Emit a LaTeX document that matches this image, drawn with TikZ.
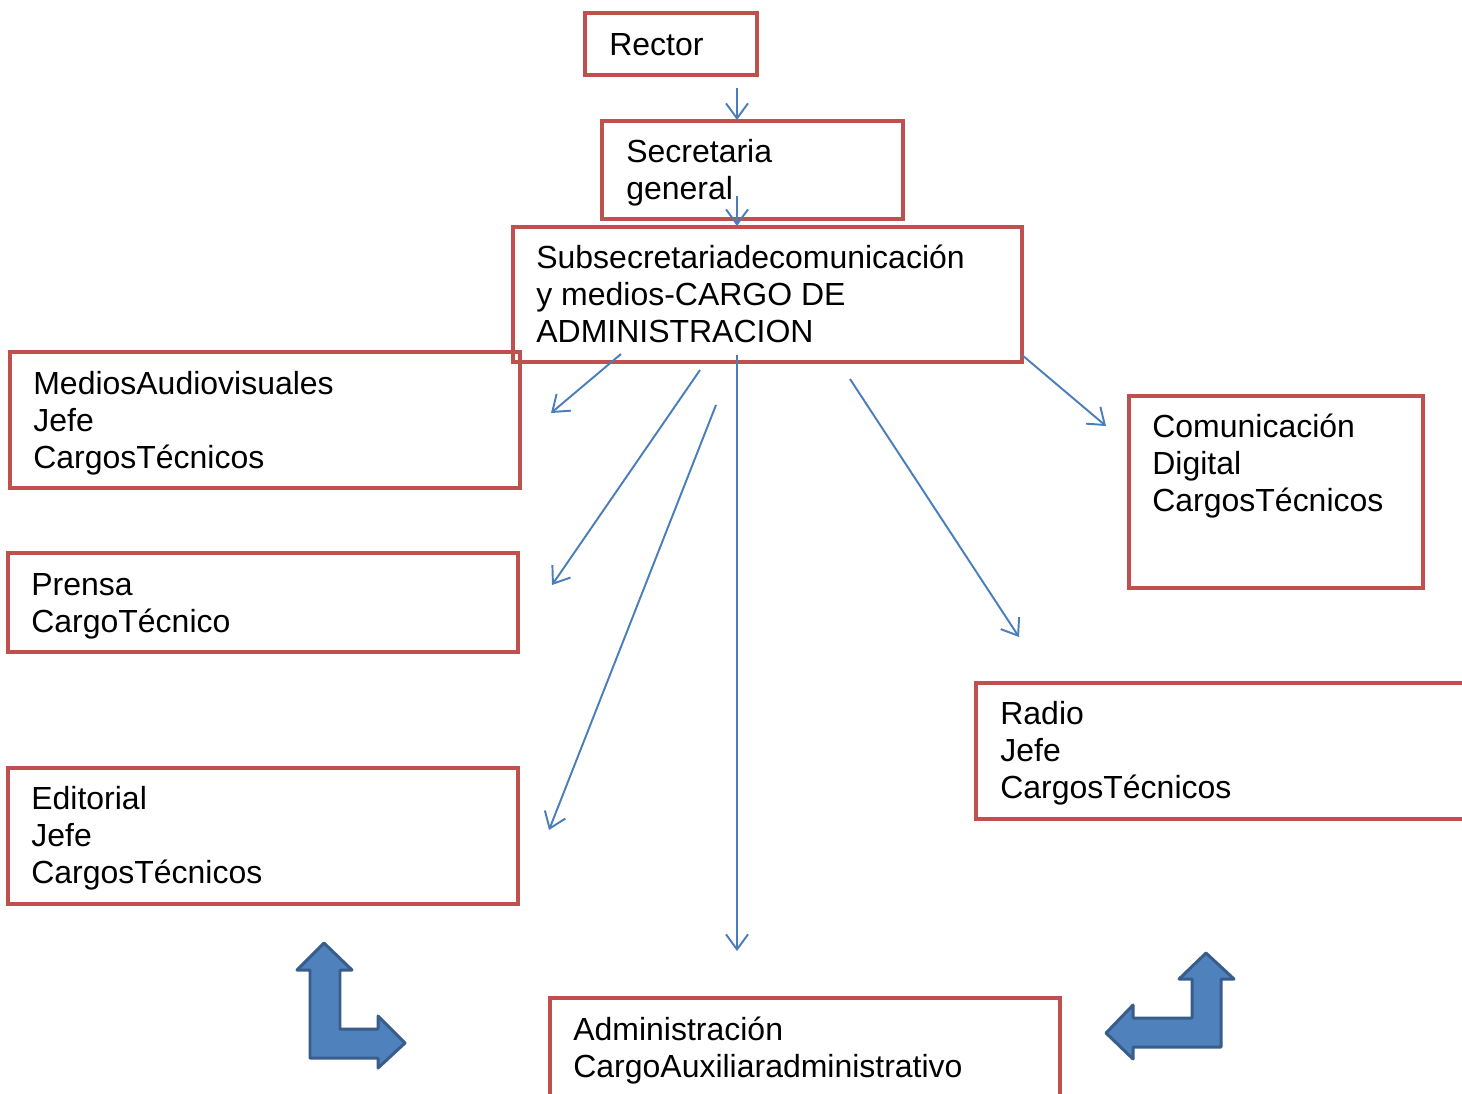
\documentclass[tikz,border=0pt]{standalone}
\usepackage{fontspec}
\setmainfont{Liberation Sans}
\usetikzlibrary{arrows.meta,fit}

\definecolor{boxred}{HTML}{C0504D}
\definecolor{linkblue}{HTML}{4A7EBB}
\definecolor{bentfill}{HTML}{4F81BD}
\definecolor{bentdraw}{HTML}{385D8A}

\tikzset{
	unitbox/.style={draw=boxred, line width=2.2pt, inner sep=0pt},
	unittext/.style={inner sep=0pt, align=left, anchor=base west, font=\fontsize{18.2}{21}\selectfont},
	link/.style={draw=linkblue, line width=1.1pt, -{Straight Barb[length=3mm,width=4.4mm]}},
	bent/.style={fill=bentfill, draw=bentdraw, line width=1.7pt, line join=round}
}

\begin{document}
\begin{tikzpicture}[x=0.02cm, y=-0.02cm]
		\useasboundingbox (0,0) rectangle (1462,1093);
		
		% boxes
		\node[unitbox, fit={(585,13) (757,75)}] (rector) {};
		\node[unitbox, fit={(602,121) (903,219)}] (secretaria) {};
		\node[unitbox, fit={(513,227) (1022,362)}] (subsecretaria) {};
		\node[unitbox, fit={(10,352) (520,488)}] (medios) {};
		\node[unitbox, fit={(8,553) (518,652)}] (prensa) {};
		\node[unitbox, fit={(8,768) (518,904)}] (editorial) {};
		\node[unitbox, fit={(1129,396) (1423,588)}] (digital) {};
		\node[unitbox, fit={(976,683) (1490,819)}] (radio) {};
		\node[unitbox, fit={(550,998) (1060,1120)}] (administracion) {};
		
		% texts (placed at the baseline of their last line)
		\node[unittext] (rectorlbl) at (609,55) {Rector};
		\node[unittext] (secretarialbl) at (626,199) {Secretaria\\general};
		\node[unittext] (subsecretarialbl) at (536,342) {Subsecretariadecomunicación\\y medios-CARGO DE\\ADMINISTRACION};
		\node[unittext] (medioslbl) at (33,468) {MediosAudiovisuales\\Jefe\\CargosTécnicos};
		\node[unittext] (prensalbl) at (31,632) {Prensa\\CargoTécnico};
		\node[unittext] (editoriallbl) at (31,883) {Editorial\\Jefe\\CargosTécnicos};
		\node[unittext] (digitallbl) at (1152,511) {Comunicación\\Digital\\CargosTécnicos};
		\node[unittext] (radiolbl) at (1000,798) {Radio\\Jefe\\CargosTécnicos};
		\node[unittext] (administracionlbl) at (573,1077) {Administración\\CargoAuxiliaradministrativo};
		
		% connectors
		\coordinate (toSecretaria) at (737,88);
		\coordinate (atSecretaria) at (737,120);
		\coordinate (toSub) at (737,196);
		\coordinate (atSub) at (737,226);
		\coordinate (toMedios) at (621,354);
		\coordinate (atMedios) at (551,413);
		\coordinate (toPrensa) at (700,370);
		\coordinate (atPrensa) at (552,585);
		\coordinate (toEditorial) at (716,405);
		\coordinate (atEditorial) at (549,830);
		\coordinate (toAdmin) at (737,355);
		\coordinate (atAdmin) at (737,951);
		\coordinate (toRadio) at (850,379);
		\coordinate (atRadio) at (1019,637);
		\coordinate (toDigital) at (1022,355);
		\coordinate (atDigital) at (1106,426);
		
		\draw[link] (toSecretaria) -- (atSecretaria);
		\draw[link] (toSub) -- (atSub);
		\draw[link] (toMedios) -- (atMedios);
		\draw[link] (toPrensa) -- (atPrensa);
		\draw[link] (toEditorial) -- (atEditorial);
		\draw[link] (toAdmin) -- (atAdmin);
		\draw[link] (toRadio) -- (atRadio);
		\draw[link] (toDigital) -- (atDigital);
		
		% bent arrows
		\draw[bent] (310,1058) -- (310,970) -- (297,970) -- (324,943) -- (352,970) -- (340,970) -- (340,1029) -- (378,1029) -- (378,1016) -- (405,1043) -- (378,1068) -- (378,1058) -- cycle;
		\draw[bent] (1221,1047) -- (1221,979) -- (1234,979) -- (1206,953) -- (1179,979) -- (1192,979) -- (1192,1018) -- (1133,1018) -- (1133,1005) -- (1106,1033) -- (1133,1059) -- (1133,1047) -- cycle;
	\end{tikzpicture}
\end{document}
